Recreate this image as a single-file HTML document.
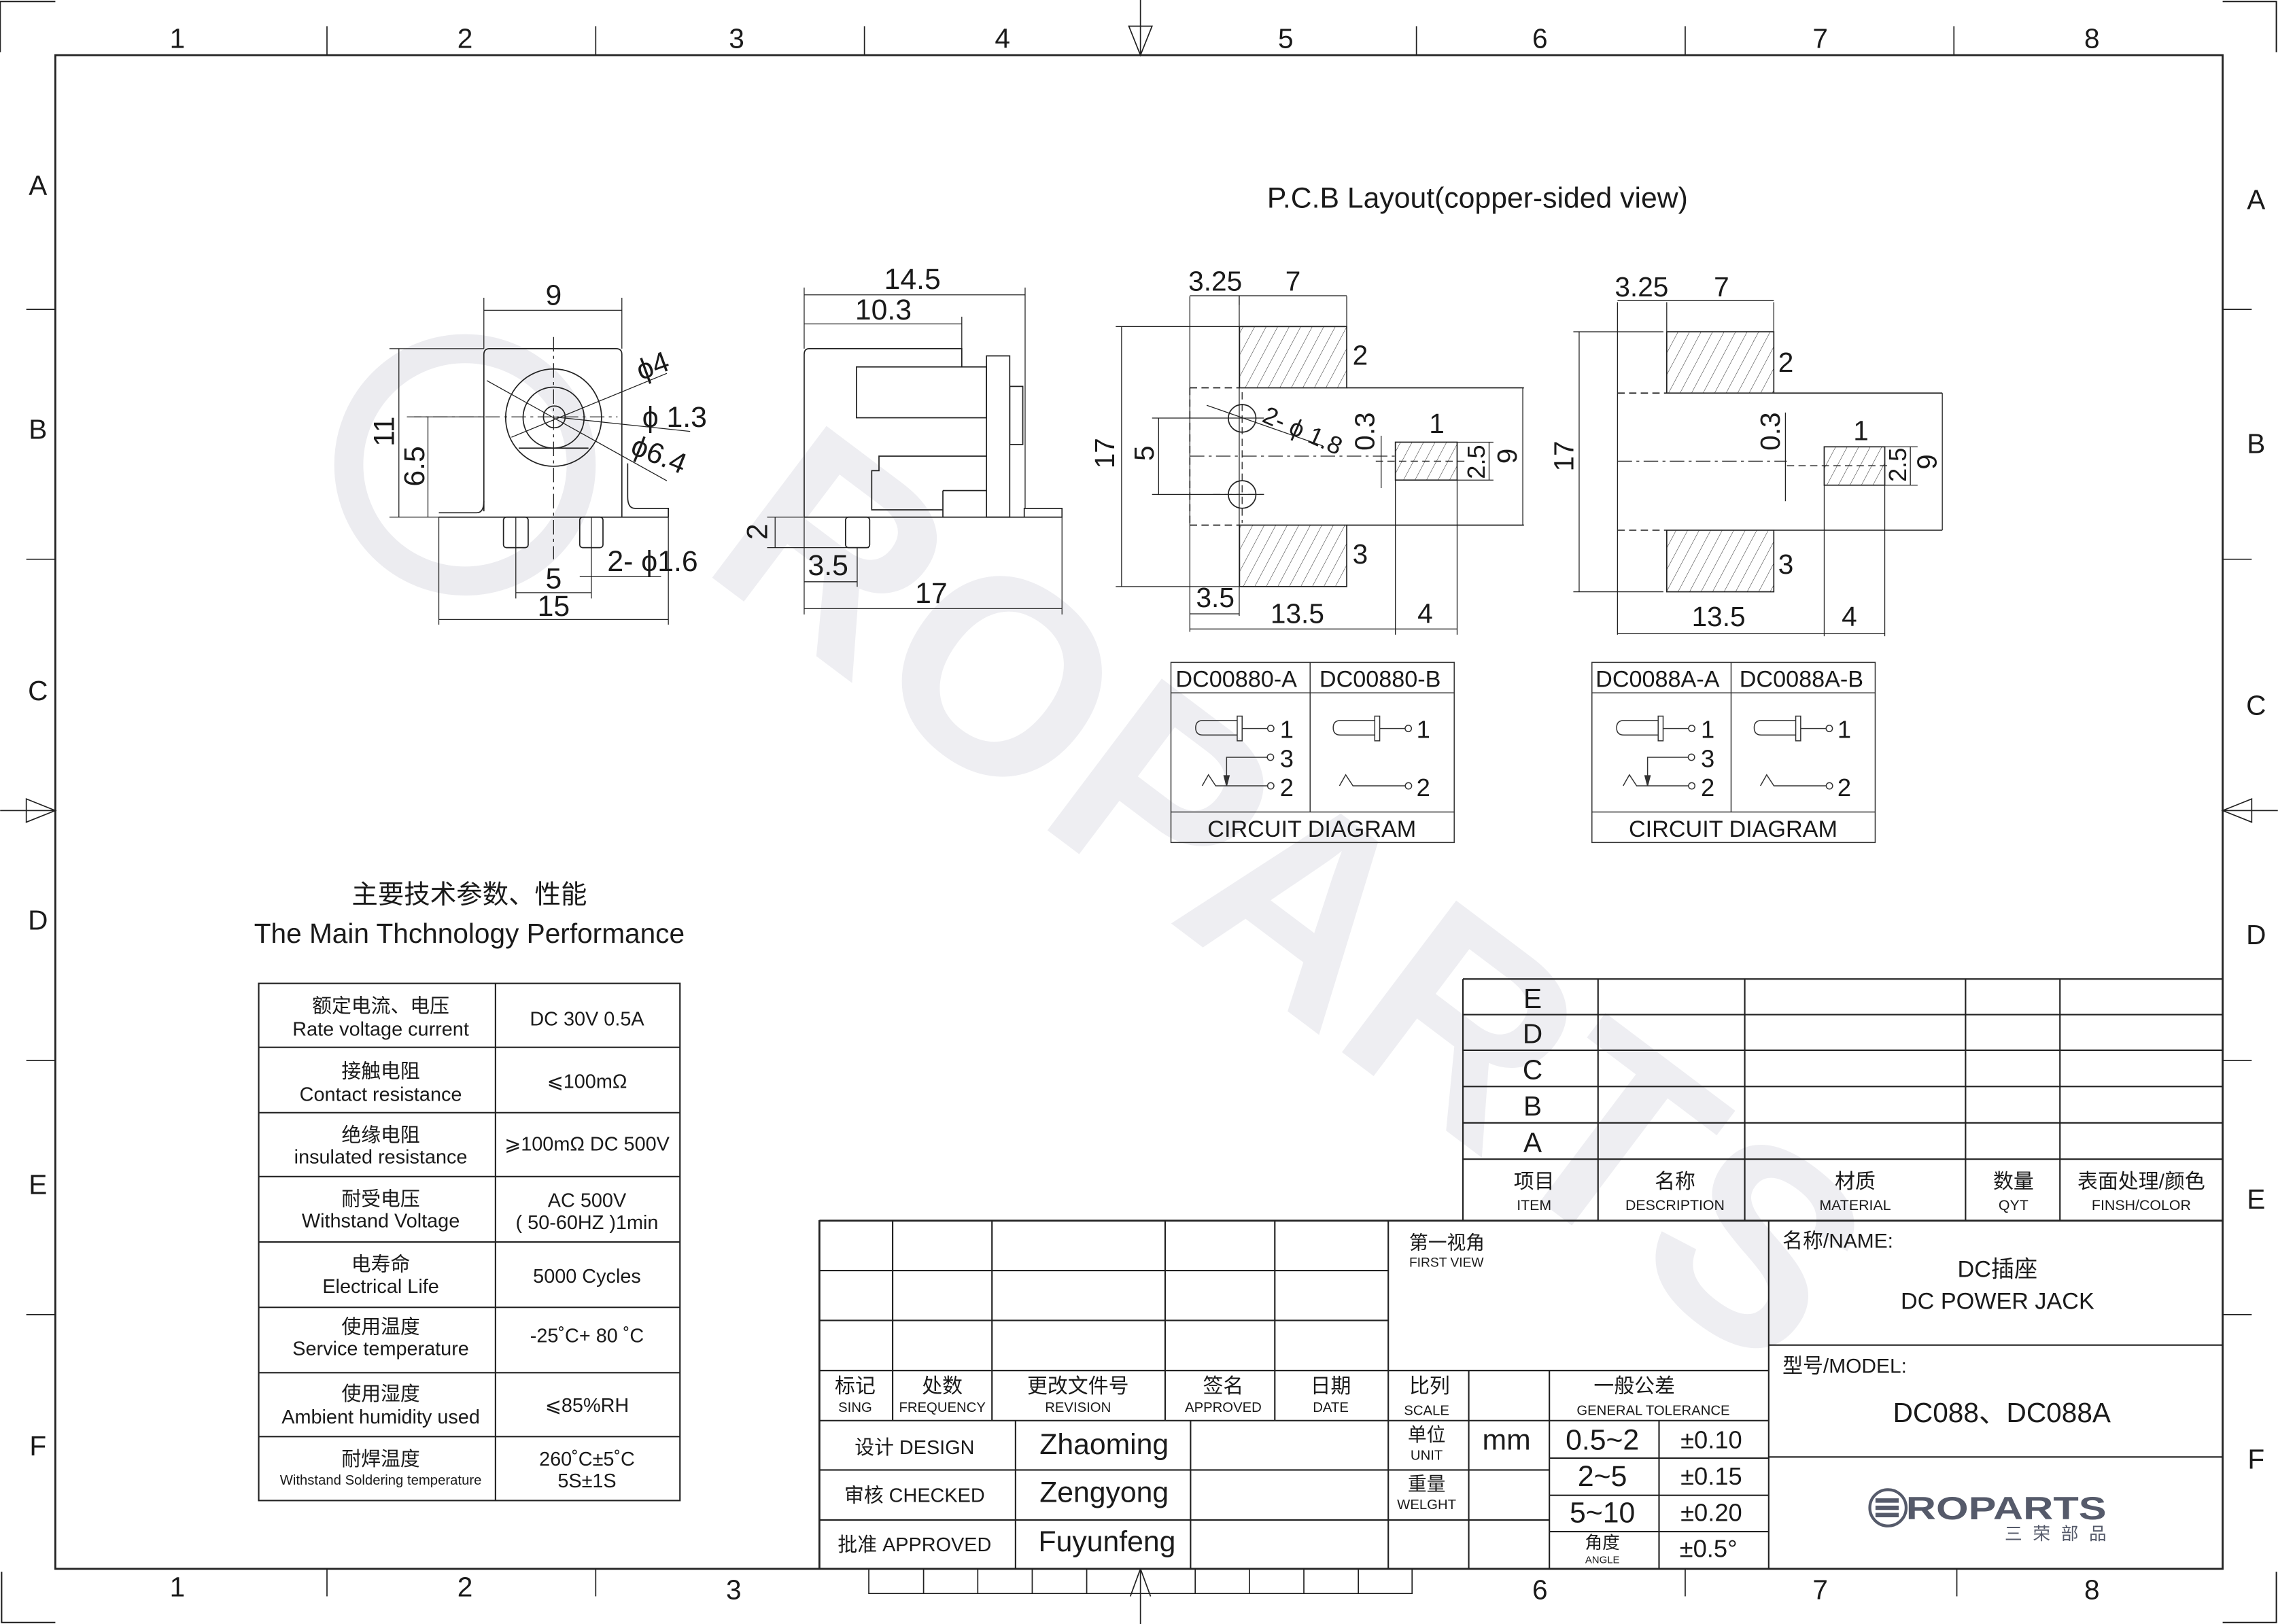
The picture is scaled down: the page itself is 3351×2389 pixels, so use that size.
<!DOCTYPE html>
<html><head><meta charset="utf-8"><style>
html,body{margin:0;padding:0;background:#fff;}
svg{display:block;}
text{font-family:"Liberation Sans","Noto Sans CJK SC",sans-serif;fill:#1a1a1a;}
.c{text-anchor:middle;}
</style></head><body>
<svg width="3351" height="2389" viewBox="0 0 1568 1118" xmlns="http://www.w3.org/2000/svg">
<defs>
<pattern id="h" patternUnits="userSpaceOnUse" width="7" height="7" patternTransform="rotate(28)">
<line x1="0" y1="0" x2="0" y2="7" stroke="#333" stroke-width="0.5"/>
</pattern>
</defs>
<rect width="1568" height="1118" fill="#fff"/>

<!-- watermark -->
<g fill="none" stroke="#ececf0" stroke-width="20">
<circle cx="320" cy="320" r="80"/>
</g>
<text x="480" y="390" font-size="190" font-weight="bold" style="fill:#eeeef2" transform="rotate(37 480 390)" letter-spacing="2">ROPARTS</text>

<!-- frame -->
<g stroke="#222" fill="none">
<rect x="38" y="38" width="1492" height="1042" stroke-width="1.3"/>
<path d="M0 36 V1 H38 M1530 1 H1567 V36 M1 1082 V1117 H38 M1567 1082 V1117 H1530" stroke-width="1"/>
<g stroke-width="0.8">
<path d="M225 18V38 M410 18V38 M595 18V38 M975 18V38 M1160 18V38 M1345 18V38"/>
<path d="M225 1080V1099 M410 1080V1099 M1160 1080V1099 M1347 1080V1099"/>
<path d="M18 213H38 M18 385H38 M18 730H38 M18 905H38"/>
<path d="M1530 213H1550 M1530 385H1550 M1530 730H1550 M1530 905H1550"/>
<path d="M785 0V38 M777 18H793 L785 38 Z"/>
<path d="M0 558H38 M18 550V566 L38 558 Z"/>
<path d="M1530 558H1568 M1550 550V566 L1530 558 Z"/>
<path d="M785 1080V1118 M785 1080 L778 1099 M785 1080 L792 1099"/>
<path d="M598 1080V1097H972V1080 M635.7 1080V1097 M673 1080V1097 M710.5 1080V1097 M748 1080V1097 M822.7 1080V1097 M860 1080V1097 M897.5 1080V1097 M935 1080V1097"/>
</g>
</g>
<g font-size="19" class="c">
<text class="c" x="122" y="33">1</text><text class="c" x="320" y="33">2</text><text class="c" x="507" y="33">3</text><text class="c" x="690" y="33">4</text><text class="c" x="885" y="33">5</text><text class="c" x="1060" y="33">6</text><text class="c" x="1253" y="33">7</text><text class="c" x="1440" y="33">8</text>
<text class="c" x="122" y="1099">1</text><text class="c" x="320" y="1099">2</text><text class="c" x="505" y="1101">3</text><text class="c" x="1060" y="1101">6</text><text class="c" x="1253" y="1101">7</text><text class="c" x="1440" y="1101">8</text>
<text class="c" x="26" y="134">A</text><text class="c" x="26" y="302">B</text><text class="c" x="26" y="482">C</text><text class="c" x="26" y="640">D</text><text class="c" x="26" y="822">E</text><text class="c" x="26" y="1002">F</text>
<text class="c" x="1553" y="144">A</text><text class="c" x="1553" y="312">B</text><text class="c" x="1553" y="492">C</text><text class="c" x="1553" y="650">D</text><text class="c" x="1553" y="832">E</text><text class="c" x="1553" y="1011">F</text>
</g>

<!-- front view -->
<g stroke="#222" fill="none" stroke-width="0.8">
<path d="M333 352 V244 Q333 240 337 240 H424 Q428 240 428 244 V340"/>
<path d="M302 356 H460 M302 353 H328 Q333 353 333 345 M460 356 V350 H437 Q432 350 432 342 V319 M428 340 V356"/>
<rect x="346.5" y="356" width="17" height="21" rx="2"/>
<rect x="399" y="356" width="16" height="21" rx="2"/>
<ellipse cx="381" cy="287.5" rx="33" ry="33.5"/>
<circle cx="381" cy="287.5" r="21"/>
<circle cx="381.5" cy="287" r="7.5"/>
<path d="M357 308.5 H405"/>
<path d="M381 232 V385 M280 287 H425" stroke-dasharray="10 3 2 3" stroke-width="0.6"/>
<path d="M335 262 L459 331 M352 301 L459 257 M381 287 L475 297" stroke-width="0.6"/>
<path d="M333 205V240 M428 205V240 M333 213.6H428" stroke-width="0.6"/>
<path d="M268 240H333 M274.5 240V356 M285 287H333 M294.5 287V356 M268 356H302" stroke-width="0.6"/>
<path d="M355 356V412 M407 356V412 M355 408H407 M399 397H455 M302 356V430 M460 356V430 M302 426.5H460" stroke-width="0.6"/>
</g>
<g font-size="20">
<text class="c" x="381" y="210">9</text>
<text x="441" y="262" transform="rotate(-20 441 262)">ϕ4</text>
<text x="442" y="294">ϕ 1.3</text>
<text x="433" y="312" transform="rotate(22 433 312)">ϕ6.4</text>
<text class="c" transform="translate(271 297) rotate(-90)">11</text>
<text class="c" transform="translate(292 321) rotate(-90)">6.5</text>
<text class="c" x="381" y="405">5</text>
<text x="418" y="393">2- ϕ1.6</text>
<text class="c" x="381" y="424">15</text>
</g>

<!-- side view -->
<g stroke="#222" fill="none" stroke-width="0.8">
<path d="M553.5 356 V244 Q553.5 240 557 240 H662 V252.6"/>
<rect x="589.5" y="252.6" width="89.5" height="35"/>
<rect x="679" y="245" width="16" height="111"/>
<rect x="695" y="266" width="9" height="40"/>
<path d="M679 314 H605 V324 H600 V351 H649 M649 337.7 H679 M649 337.7 V356"/>
<path d="M553.5 356 H731 V350 H705 V356"/>
<rect x="582" y="356" width="16.6" height="21" rx="2"/>
<path d="M553.5 198V240 M705.6 198V350 M662 218V240 M553.5 203H705.6 M553.5 223H662" stroke-width="0.6"/>
<path d="M528 356H553 M528 377H598 M533.5 356V377 M553.5 356V423 M590 377V404 M731 356V423 M553.5 400.5H590 M553.5 419H731" stroke-width="0.6"/>
</g>
<g font-size="20">
<text class="c" x="628" y="199">14.5</text>
<text class="c" x="608" y="220">10.3</text>
<text class="c" transform="translate(528 366) rotate(-90)">2</text>
<text class="c" x="570" y="396">3.5</text>
<text class="c" x="641" y="415">17</text>
</g>

<text class="c" x="1017" y="143" font-size="20">P.C.B Layout(copper-sided view)</text>

<!-- PCB 1 -->
<g stroke="#222" fill="none" stroke-width="0.8">
<rect x="853.2" y="224.8" width="73.8" height="42.2" fill="url(#h)"/>
<rect x="853.2" y="361.5" width="73.8" height="42.3" fill="url(#h)"/>
<rect x="960.5" y="304.4" width="42.5" height="26.1" fill="url(#h)"/>
<path d="M819 267 H853 M819 361.5 H853 M819 267 V361.5" stroke-dasharray="5 3"/>
<path d="M927 267 H1049 M927 361.5 H1049"/>
<circle cx="855" cy="288" r="9.5"/>
<circle cx="855" cy="340.4" r="9.5"/>
<path d="M819 204V435 M853 204V424" stroke-width="0.6"/>
<path d="M927 204V225 M819 203.6H927 M853 203.6V210" stroke-width="0.6"/>
<path d="M819 314 H960" stroke-dasharray="10 3 2 3" stroke-width="0.6"/>
<path d="M947 317.5 H1008 M855 270 V360 M835 340.4 H870" stroke-dasharray="5 3" stroke-width="0.6"/>
<path d="M793 287.8H870 M793 340.4H870 M797.5 287.8V340.4" stroke-width="0.6"/>
<path d="M768 224.8H853 M768 403.8H853 M772 224.8V403.8" stroke-width="0.6"/>
<path d="M1048.2 267V361.5 M950.7 300V336" stroke-width="0.6"/>
<path d="M1003 304.4H1028 M1003 330.5H1028 M1025 304.4V330.5" stroke-width="0.6"/>
<path d="M960.5 330V437 M1003 330V437 M819 422.6H853 M819 433H1003" stroke-width="0.6"/>
<path d="M830.6 279 L910.6 307" stroke-width="0.6"/>
</g>
<g font-size="19">
<text class="c" x="836.5" y="200">3.25</text>
<text class="c" x="890" y="200">7</text>
<text x="931" y="251">2</text>
<text x="931" y="388">3</text>
<text class="c" x="989" y="298">1</text>
<text class="c" transform="translate(767 312) rotate(-90)">17</text>
<text class="c" transform="translate(794 312) rotate(-90)">5</text>
<text class="c" transform="translate(946 297) rotate(-90)">0.3</text>
<text class="c" transform="translate(1022 318) rotate(-90)" font-size="17">2.5</text>
<text class="c" transform="translate(1044 314) rotate(-90)">9</text>
<text x="868" y="290" transform="rotate(24 868 290)" font-size="17">2- ϕ 1.8</text>
<text class="c" x="836.5" y="418">3.5</text>
<text class="c" x="893" y="429">13.5</text>
<text class="c" x="981" y="429">4</text>
</g>

<!-- PCB 2 -->
<g stroke="#222" fill="none" stroke-width="0.8">
<rect x="1147.3" y="228.4" width="73.7" height="42.2" fill="url(#h)"/>
<rect x="1147.3" y="365" width="73.7" height="42.4" fill="url(#h)"/>
<rect x="1255.7" y="307.6" width="41.7" height="26.4" fill="url(#h)"/>
<path d="M1113.4 270.6 H1147 M1113.4 365 H1147" stroke-dasharray="5 3"/>
<path d="M1221 270.6 H1337 M1221 365 H1337"/>
<path d="M1113.4 208V437 M1147.3 208V228 M1221 208V228 M1113.4 207H1221" stroke-width="0.6"/>
<path d="M1083 228.4H1145 M1083 407.4H1145 M1087 228.4V407.4" stroke-width="0.6"/>
<path d="M1113.4 317.5 H1230" stroke-dasharray="10 3 2 3" stroke-width="0.6"/>
<path d="M1230 320.6 H1302" stroke-dasharray="5 3" stroke-width="0.6"/>
<path d="M1229 284V345" stroke-width="0.6"/>
<path d="M1297 307.6H1320 M1297 334H1320 M1315 307.6V334 M1337 270.6V365" stroke-width="0.6"/>
<path d="M1255.7 334V438 M1297.4 334V438 M1113.4 436H1297.4" stroke-width="0.6"/>
</g>
<g font-size="19">
<text class="c" x="1130" y="204">3.25</text>
<text class="c" x="1185" y="204">7</text>
<text x="1224" y="256">2</text>
<text x="1224" y="395">3</text>
<text class="c" x="1281" y="303">1</text>
<text class="c" transform="translate(1083 314) rotate(-90)">17</text>
<text class="c" transform="translate(1225 297) rotate(-90)">0.3</text>
<text class="c" transform="translate(1312 320) rotate(-90)" font-size="17">2.5</text>
<text class="c" transform="translate(1333 318) rotate(-90)">9</text>
<text class="c" x="1183" y="431">13.5</text>
<text class="c" x="1273" y="431">4</text>
</g>

<!-- circuit diagrams -->
<g id="cd1">
<g stroke="#333" fill="none" stroke-width="0.7">
<rect x="806" y="456" width="195" height="124"/>
<path d="M806 477H1001 M806 559H1001 M901.8 456V559"/>
<path d="M851.6 496 H828 Q823 496 823 501 Q823 506 828 506 H851.6"/><rect x="851.6" y="493" width="3.4" height="17"/>
<path d="M855 501.5 H872.5"/><circle cx="874.7" cy="501.5" r="2.2"/>
<circle cx="874.5" cy="521.3" r="2.2"/><path d="M872.3 521.3 H844.3 V540"/><path d="M842.5 534 L844.3 541 L846.1 534 Z" fill="#333"/>
<path d="M827.5 541 L831.8 533.4 L836.8 541 H872.5"/><circle cx="874.7" cy="541" r="2.2"/>
<path d="M946.3 496 H922.7 Q917.7 496 917.7 501 Q917.7 506 922.7 506 H946.3"/><rect x="946.3" y="493" width="3.4" height="17"/>
<path d="M949.7 501.5 H967.2"/><circle cx="969.4" cy="501.5" r="2.2"/>
<path d="M922 541 L926.3 533.4 L931.3 541 H967.3"/><circle cx="969.5" cy="541" r="2.2"/>
</g>
<g font-size="17">
<text x="881" y="508">1</text><text x="881" y="528">3</text><text x="881" y="548">2</text>
<text x="975" y="508">1</text><text x="975" y="548">2</text>
</g>
</g>
<g font-size="16">
<text class="c" x="851" y="473">DC00880-A</text><text class="c" x="950" y="473">DC00880-B</text>
<text class="c" x="903" y="576">CIRCUIT DIAGRAM</text>
</g>
<use href="#cd1" transform="translate(289.8 0)"/>
<g font-size="16">
<text class="c" x="1141" y="473">DC0088A-A</text><text class="c" x="1240" y="473">DC0088A-B</text>
<text class="c" x="1193" y="576">CIRCUIT DIAGRAM</text>
</g>

<!-- spec table -->
<text class="c" x="323" y="622" font-size="18">主要技术参数、性能</text>
<text class="c" x="323" y="649" font-size="19">The Main Thchnology Performance</text>
<g stroke="#222" fill="none" stroke-width="1">
<rect x="178" y="677" width="290" height="356"/>
<path d="M341 677V1033 M178 721H468 M178 766H468 M178 810H468 M178 855H468 M178 900H468 M178 945H468 M178 989H468"/>
</g>
<g font-size="13.5">
<text class="c" x="262" y="697">额定电流、电压</text><text class="c" x="262" y="713">Rate voltage current</text>
<text class="c" x="262" y="742">接触电阻</text><text class="c" x="262" y="758">Contact resistance</text>
<text class="c" x="262" y="786">绝缘电阻</text><text class="c" x="262" y="801">insulated resistance</text>
<text class="c" x="262" y="830">耐受电压</text><text class="c" x="262" y="845">Withstand Voltage</text>
<text class="c" x="262" y="875">电寿命</text><text class="c" x="262" y="890">Electrical Life</text>
<text class="c" x="262" y="918">使用温度</text><text class="c" x="262" y="933">Service temperature</text>
<text class="c" x="262" y="964">使用湿度</text><text class="c" x="262" y="980">Ambient humidity used</text>
<text class="c" x="262" y="1009">耐焊温度</text><text class="c" x="262" y="1022" font-size="9.5">Withstand Soldering temperature</text>
<text class="c" x="404" y="706">DC 30V   0.5A</text>
<text class="c" x="404" y="749">⩽100mΩ</text>
<text class="c" x="404" y="792">⩾100mΩ DC 500V</text>
<text class="c" x="404" y="831">AC 500V</text><text class="c" x="404" y="846">( 50-60HZ )1min</text>
<text class="c" x="404" y="883">5000 Cycles</text>
<text class="c" x="404" y="924">-25˚C+ 80 ˚C</text>
<text class="c" x="404" y="972">⩽85%RH</text>
<text class="c" x="404" y="1009">260˚C±5˚C</text><text class="c" x="404" y="1024">5S±1S</text>
</g>

<!-- revision table -->
<g stroke="#222" fill="none" stroke-width="1">
<path d="M1007 674H1530 M1007 698.5H1530 M1007 723H1530 M1007 748H1530 M1007 773H1530 M1007 798H1530"/>
<path d="M1007 674V840 M1100 674V840 M1201 674V840 M1353 674V840 M1418 674V840"/>
</g>
<g font-size="19">
<text class="c" x="1055" y="694">E</text><text class="c" x="1055" y="718">D</text><text class="c" x="1055" y="743">C</text><text class="c" x="1055" y="768">B</text><text class="c" x="1055" y="793">A</text>
</g>
<g font-size="14">
<text class="c" x="1056" y="818">项目</text><text class="c" x="1153" y="818">名称</text><text class="c" x="1277" y="818">材质</text><text class="c" x="1386" y="818">数量</text><text class="c" x="1474" y="818">表面处理/颜色</text>
</g>
<g font-size="10">
<text class="c" x="1056" y="833">ITEM</text><text class="c" x="1153" y="833">DESCRIPTION</text><text class="c" x="1277" y="833">MATERIAL</text><text class="c" x="1386" y="833">QYT</text><text class="c" x="1474" y="833">FINSH/COLOR</text>
</g>

<!-- title block -->
<g stroke="#222" fill="none" stroke-width="1">
<path d="M564 840.3H1530 M564 840V1080" stroke-width="1.3"/>
<path d="M564 874.7H955.6 M564 909H955.6 M564 943.5H1217.5 M564 978H1217.5 M564 1012H1066.5 M564 1046.4H1066.5"/>
<path d="M1066.5 1003.8H1217.5 M1066.5 1029.4H1217.5 M1066.5 1054.4H1217.5"/>
<path d="M614.4 840V978 M682.8 840V978 M802 840V978 M877.5 840V978 M955.6 840V1080 M1011 943.5V1080 M1066.5 943.5V1080 M1142 978V1080 M1217.5 840V1080"/>
<path d="M699 978V1080 M819.5 978V1080"/>
<path d="M1217.5 926H1530 M1217.5 1003H1530"/>
</g>
<g>
<text x="970" y="860" font-size="13">第一视角</text><text x="970" y="872" font-size="9">FIRST VIEW</text>
<g font-size="14">
<text class="c" x="588.6" y="959">标记</text><text class="c" x="648.6" y="959">处数</text><text class="c" x="742" y="959">更改文件号</text><text class="c" x="842" y="959">签名</text><text class="c" x="916" y="959">日期</text><text class="c" x="984" y="959">比列</text><text class="c" x="1125" y="959">一般公差</text>
</g>
<g font-size="9.5">
<text class="c" x="588.6" y="972">SING</text><text class="c" x="648.6" y="972">FREQUENCY</text><text class="c" x="742" y="972">REVISION</text><text class="c" x="842" y="972">APPROVED</text><text class="c" x="916" y="972">DATE</text><text class="c" x="982" y="974">SCALE</text><text class="c" x="1138" y="974">GENERAL TOLERANCE</text>
</g>
<g font-size="13.5">
<text class="c" x="629.5" y="1001">设计 DESIGN</text><text class="c" x="629.5" y="1034">审核 CHECKED</text><text class="c" x="629.5" y="1068">批准 APPROVED</text>
</g>
<g font-size="20">
<text class="c" x="760" y="1001">Zhaoming</text><text class="c" x="760" y="1034">Zengyong</text><text class="c" x="762" y="1068">Fuyunfeng</text>
<text class="c" x="1037" y="998">mm</text>
<text class="c" x="1103" y="998">0.5~2</text><text class="c" x="1103" y="1023">2~5</text><text class="c" x="1103" y="1048">5~10</text>
</g>
<g font-size="17">
<text class="c" x="1178" y="997">±0.10</text><text class="c" x="1178" y="1022">±0.15</text><text class="c" x="1178" y="1047">±0.20</text><text class="c" x="1176" y="1072">±0.5°</text>
</g>
<text class="c" x="982" y="992" font-size="13">单位</text><text class="c" x="982" y="1005" font-size="9.5">UNIT</text>
<text class="c" x="982" y="1026" font-size="13">重量</text><text class="c" x="982" y="1039" font-size="9.5">WELGHT</text>
<text class="c" x="1103" y="1066" font-size="12">角度</text><text class="c" x="1103" y="1076" font-size="7">ANGLE</text>
<text x="1227" y="859" font-size="14">名称/NAME:</text>
<text class="c" x="1375" y="879" font-size="16">DC插座</text>
<text class="c" x="1375" y="901" font-size="16">DC POWER JACK</text>
<text x="1227" y="945" font-size="14">型号/MODEL:</text>
<text class="c" x="1378" y="979" font-size="19">DC088、DC088A</text>
</g>
<!-- logo -->
<g>
<circle cx="1299.6" cy="1038" r="12.5" fill="none" stroke="#555a6a" stroke-width="2"/>
<path d="M1291 1033 H1307 M1291 1038 H1307 M1291 1043 H1307" stroke="#555a6a" stroke-width="3"/>
<text x="1312" y="1046" font-size="22" font-weight="bold" textLength="138" lengthAdjust="spacingAndGlyphs" style="fill:#555a6a">ROPARTS</text>
<text x="1380" y="1060" font-size="12" textLength="70" lengthAdjust="spacing" style="fill:#555a6a">三荣部品</text>
</g>
</svg>
</body></html>
